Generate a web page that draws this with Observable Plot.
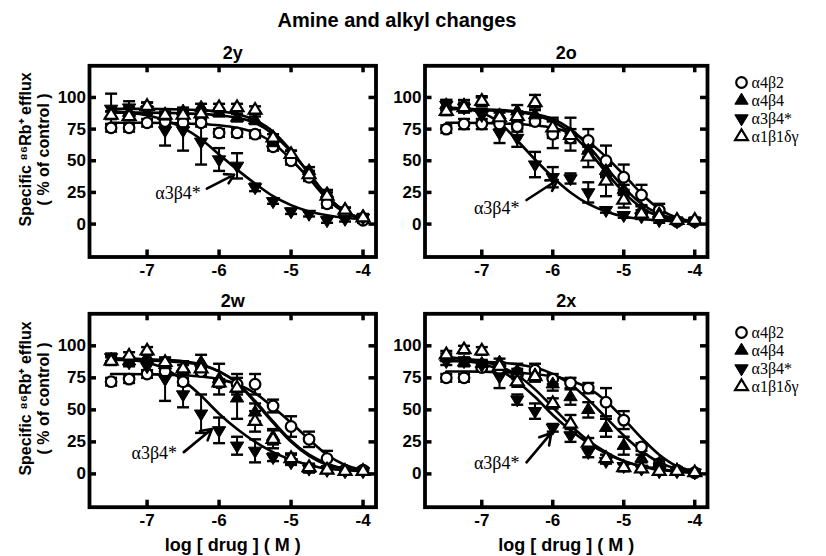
<!DOCTYPE html>
<html>
<head>
<meta charset="utf-8">
<script src="https://cdn.jsdelivr.net/npm/d3@7"></script>
<script src="https://cdn.jsdelivr.net/npm/@observablehq/plot@0.6"></script>
<style>
  html, body { margin: 0; padding: 0; background: #fff; overflow: hidden; }
  #chart { position: relative; width: 826px; height: 556px; overflow: hidden; background: #fff;
           font-family: "Liberation Sans", Arial, sans-serif; color: #000; }
  #title { position: absolute; left: 0; top: 9px; width: 794px; text-align: center;
           font-weight: bold; font-size: 20px; line-height: 23px; }
</style>
</head>
<body>
<div id="chart"><div id="title">Amine and alkyl changes</div></div>
<script>
// ---------------- data ----------------
const LOG_CONC = [-7.5, -7.25, -7, -6.75, -6.5, -6.25, -6, -5.75, -5.5, -5.25, -5, -4.75, -4.5, -4.25, -4];
const SERIES = ["α4β2", "α4β4", "α3β4*", "α1β1δγ"];
const X_TICKS = [-7, -6, -5, -4];
const Y_TICKS = [0, 25, 50, 75, 100];
const X_DOMAIN = [-7.8, -3.82];
const Y_DOMAIN = [-26, 125];
const Y_LABEL = "Specific ⁸⁶Rb⁺ efflux\n( % of control )";
const X_LABEL = "log [ drug ] ( M )";
const NOTE_TEXT = "α3β4*";

// panel 2y: values (v), error (e), fitted curve (f)
const v2y_a4b2 = [76, 76, 80, 81, 80, 80, 72, 72, 71, 61, 50, 37, 16, 7, 3];
const e2y_a4b2 = [3, 3, 3, 3, 3, 3, 3, 3, 3, 3, 3, 3, 3, 2, 2];
const f2y_a4b2 = [80, 80, 80, 79.8, 79.5, 79, 78, 76, 72, 64, 51, 36, 20, 9, 4];
const v2y_a4b4 = [86, 88, 93, 85, 89, 92, 88, 84, 82, 64, 55, 42, 24, 11, 6];
const e2y_a4b4 = [3, 4, 3, 3, 3, 3, 3, 3, 3, 3, 3, 3, 3, 2, 2];
const f2y_a4b4 = [88, 88, 88, 87.8, 87.5, 87, 86, 84, 80, 71, 57, 40, 22, 10, 4];
const v2y_a3b4 = [91, 92, 90, 74, 74, 65, 51, 46, 29, 18, 10, 8, 3, 4, 5];
const e2y_a3b4 = [12, 5, 3, 12, 16, 18, 9, 10, 3, 2, 2, 2, 2, 2, 2];
const f2y_a3b4 = [89, 88, 86, 82, 76, 67, 55, 43, 32, 22, 15, 10, 7, 5, 4];
const v2y_a1b1 = [86, 85, 93, 86, 86, 87, 92, 92, 90, 68, 55, 39, 22, 11, 5];
const e2y_a1b1 = [3, 3, 3, 3, 3, 3, 3, 3, 3, 3, 3, 3, 3, 2, 2];
const f2y_a1b1 = [91, 91, 91, 90.8, 90.5, 90, 89, 87, 82, 73, 58, 40, 22, 10, 4];

// panel 2o
const v2o_a4b2 = [75, 79, 79, 79, 77, 81, 71, 68, 66, 50, 37, 23, 11, 2, 2];
const e2o_a4b2 = [3, 4, 4, 4, 4, 3, 11, 4, 9, 12, 10, 8, 5, 2, 2];
const f2o_a4b2 = [80, 80, 79.8, 79.5, 79, 78, 76, 72, 65, 53, 39, 24, 12, 5, 2];
const v2o_a4b4 = [94, 94, 97, 86, 89, 86, 76, 71, 58, 42, 27, 11, 8, 3, 3];
const e2o_a4b4 = [4, 4, 4, 4, 5, 6, 8, 13, 5, 5, 4, 3, 3, 2, 2];
const f2o_a4b4 = [91, 91, 90.5, 90, 89, 87, 83, 75, 62, 45, 29, 16, 8, 4, 2];
const v2o_a3b4 = [94, 92, 86, 72, 68, 47, 37, 36, 25, 11, 7, 6, 3, 2, 2];
const e2o_a3b4 = [4, 4, 5, 8, 7, 10, 8, 4, 8, 2, 2, 2, 2, 2, 2];
const f2o_a3b4 = [92, 91, 88, 80, 66, 51, 37, 25, 16, 10, 6, 4, 3, 2, 2];
const v2o_a1b1 = [89, 92, 97, 84, 85, 96, 76, 70, 53, 34, 19, 8, 6, 3, 3];
const e2o_a1b1 = [3, 3, 3, 4, 4, 6, 5, 5, 8, 12, 6, 3, 3, 2, 2];
const f2o_a1b1 = [91, 91, 90, 89.5, 88.5, 86, 81, 72, 58, 41, 25, 13, 6, 3, 2];

// panel 2w
const v2w_a4b2 = [72, 74, 78, 80, 72, 80, 71, 70, 70, 53, 37, 27, 12, 3, 3];
const e2w_a4b2 = [3, 3, 3, 3, 3, 3, 3, 8, 8, 5, 8, 6, 6, 2, 2];
const f2w_a4b2 = [78, 78, 77.8, 77.5, 77, 76, 74, 70, 63, 52, 40, 27, 15, 7, 3];
const v2w_a4b4 = [89, 88, 91, 85, 83, 87, 74, 59, 48, 29, 12, 4, 3, 2, 2];
const e2w_a4b4 = [3, 3, 3, 4, 5, 6, 12, 16, 7, 6, 4, 3, 2, 2, 2];
const f2w_a4b4 = [89, 89, 88.5, 88, 87, 85, 80, 71, 57, 41, 26, 15, 8, 4, 2];
const v2w_a3b4 = [91, 87, 84, 74, 62, 47, 34, 22, 18, 13, 9, 4, 3, 2, 2];
const e2w_a3b4 = [3, 3, 3, 17, 10, 15, 10, 7, 9, 3, 2, 2, 2, 2, 2];
const f2w_a3b4 = [90, 89, 87, 82, 73, 61, 47, 35, 25, 17, 11, 7, 4, 3, 2];
const v2w_a1b1 = [88, 92, 96, 87, 82, 82, 71, 67, 41, 27, 12, 5, 3, 2, 2];
const e2w_a1b1 = [3, 3, 3, 3, 3, 3, 3, 3, 8, 7, 3, 3, 2, 2, 2];
const f2w_a1b1 = [90, 90, 89.5, 89, 88, 85.5, 80, 71, 56, 40, 25, 14, 7, 4, 2];

// panel 2x
const v2x_a4b2 = [75, 75, 83, 82, 79, 81, 74, 71, 67, 56, 42, 21, 8, 3, 1];
const e2x_a4b2 = [3, 3, 3, 3, 3, 5, 4, 4, 4, 11, 7, 3, 3, 2, 2];
const f2x_a4b2 = [80, 80, 79.8, 79.5, 79, 78, 76, 73, 67, 57, 43, 28, 15, 6, 2];
const v2x_a4b4 = [91, 87, 86, 87, 80, 77, 70, 60, 50, 36, 22, 12, 8, 3, 1];
const e2x_a4b4 = [3, 3, 3, 3, 6, 4, 5, 6, 6, 7, 7, 3, 3, 2, 2];
const f2x_a4b4 = [88, 88, 87.5, 87, 85.5, 83, 78, 70, 58, 44, 30, 18, 9, 4, 2];
const v2x_a3b4 = [88, 88, 85, 76, 58, 49, 36, 30, 17, 10, 6, 4, 2, 2, 1];
const e2x_a3b4 = [3, 3, 3, 9, 4, 6, 3, 5, 4, 2, 2, 2, 2, 2, 2];
const f2x_a3b4 = [89, 88, 86, 81, 72, 60, 46, 34, 24, 16, 10, 6, 4, 2, 1];
const v2x_a1b1 = [93, 97, 96, 84, 72, 76, 55, 39, 24, 12, 5, 4, 2, 2, 1];
const e2x_a1b1 = [3, 3, 3, 3, 4, 4, 4, 7, 4, 3, 3, 2, 2, 2, 2];
const f2x_a1b1 = [91, 90, 88, 84, 77, 66, 52, 38, 26, 17, 10, 6, 3, 2, 1];

// annotation "α3β4*" label position and arrow (data units) per panel
const note2y = [{x: -6.57, y: 24, x1: -6.17, y1: 28, x2: -5.79, y2: 39}];
const note2o = [{x: -6.79, y: 12.5, x1: -6.37, y1: 19, x2: -5.93, y2: 35}];
const note2w = [{x: -6.90, y: 16, x1: -6.49, y1: 17, x2: -6.10, y2: 35}];
const note2x = [{x: -6.79, y: 8.5, x1: -6.37, y1: 9, x2: -6.02, y2: 32}];

// ---------------- styling ----------------
const SANS = "Liberation Sans, Arial, Helvetica, sans-serif";
const SERIF = "Liberation Serif, Times New Roman, serif";

const triUp = {draw(ctx, size) {
  const r = Math.sqrt(size / Math.PI), h = 1.9 * r, w = 1.15 * r;
  ctx.moveTo(0, -2 * h / 3); ctx.lineTo(w, h / 3); ctx.lineTo(-w, h / 3); ctx.closePath();
}};
const triDown = {draw(ctx, size) {
  const r = Math.sqrt(size / Math.PI), h = 1.9 * r, w = 1.15 * r;
  ctx.moveTo(0, 2 * h / 3); ctx.lineTo(w, -h / 3); ctx.lineTo(-w, -h / 3); ctx.closePath();
}};
const capSym = {draw(ctx, size) {
  const r = Math.sqrt(size / Math.PI);
  ctx.moveTo(-r, 0); ctx.lineTo(r, 0);
}};

const SYMBOL_STYLE = [
  {symbol: "circle", r: 5.3, fill: "white", stroke: "black", strokeWidth: 2.2},
  {symbol: triUp, r: 5.8, fill: "black", stroke: "black", strokeWidth: 1},
  {symbol: triDown, r: 5.8, fill: "black", stroke: "black", strokeWidth: 1},
  {symbol: triUp, r: 5.6, fill: "white", stroke: "black", strokeWidth: 2.2}
];

const TICK = 7;
const chart = document.getElementById("chart");

function place(svg, left, top, width, height) {
  svg.style.position = "absolute";
  svg.style.left = left + "px";
  svg.style.top = top + "px";
  svg.style.width = width + "px";
  svg.style.height = height + "px";
  svg.style.maxWidth = "none";
  chart.appendChild(svg);
  return svg;
}

function panel(cfg) {
  const rows = cfg.series.flatMap((s, k) =>
    LOG_CONC.map((x, i) => ({k, x, v: s.v[i], e: s.e[i], f: s.f[i]})));
  const eb = rows.filter(d => d.e > 0);
  const marks = [];
  cfg.series.forEach((s, k) => marks.push(
    Plot.line(rows.filter(d => d.k === k), {x: "x", y: "f", curve: "monotone-x", stroke: "black", strokeWidth: 2.6})
  ));
  marks.push(Plot.ruleX(eb, {x: "x", y1: d => d.v - d.e, y2: d => d.v + d.e, stroke: "black", strokeWidth: 2}));
  marks.push(Plot.dot(eb, {x: "x", y: d => d.v + d.e, symbol: capSym, r: 6, fill: "none", stroke: "black", strokeWidth: 2.4}));
  marks.push(Plot.dot(eb, {x: "x", y: d => d.v - d.e, symbol: capSym, r: 6, fill: "none", stroke: "black", strokeWidth: 2.4}));
  SYMBOL_STYLE.forEach((st, k) => marks.push(Plot.dot(rows.filter(d => d.k === k), {x: "x", y: "v", ...st})));
  // annotation
  marks.push(Plot.arrow(cfg.note, {x1: "x1", y1: "y1", x2: "x2", y2: "y2", stroke: "black", strokeWidth: 2.6, headLength: 9}));
  marks.push(Plot.text(cfg.note, {x: "x", y: "y", text: () => NOTE_TEXT, fontFamily: SERIF, fontSize: 18,
                                  fontWeight: "normal", ariaLabel: "note", fill: "black"}));
  // inward ticks on all four sides
  marks.push(Plot.ruleX(X_TICKS, {x: d => d, y1: () => Y_DOMAIN[1], y2: () => Y_DOMAIN[1], insetBottom: -TICK, stroke: "black", strokeWidth: 3.5}));
  marks.push(Plot.ruleX(X_TICKS, {x: d => d, y1: () => Y_DOMAIN[0], y2: () => Y_DOMAIN[0], insetTop: -TICK, stroke: "black", strokeWidth: 3.5}));
  marks.push(Plot.ruleY(Y_TICKS, {y: d => d, x1: () => X_DOMAIN[0], x2: () => X_DOMAIN[0], insetRight: -TICK, stroke: "black", strokeWidth: 3.5}));
  marks.push(Plot.ruleY(Y_TICKS, {y: d => d, x1: () => X_DOMAIN[1], x2: () => X_DOMAIN[1], insetLeft: -TICK, stroke: "black", strokeWidth: 3.5}));
  marks.push(Plot.frame({stroke: "black", strokeWidth: 3.8}));
  // panel title
  marks.push(Plot.text([cfg.title], {frameAnchor: "top", dy: -7, lineAnchor: "bottom", textAnchor: "middle",
                                     fontSize: 18, fontWeight: "bold", fontFamily: SANS}));
  if (cfg.yLabel) {
    marks.push(Plot.text([Y_LABEL], {frameAnchor: "left", rotate: -90, dx: -55.5, dy: -12,
                                     textAnchor: "middle", lineAnchor: "middle",
                                     lineHeight: 1.15, fontSize: 16, fontWeight: "bold", fontFamily: SANS}));
  }
  if (cfg.xLabel) {
    marks.push(Plot.text([X_LABEL], {frameAnchor: "bottom", dy: 43.3, lineAnchor: "bottom", textAnchor: "middle",
                                     fontSize: 18, fontWeight: "bold", fontFamily: SANS}));
  }
  const svg = Plot.plot({
    width: cfg.width, height: cfg.height,
    marginLeft: cfg.ml, marginRight: cfg.mr, marginTop: cfg.mt, marginBottom: cfg.mb,
    x: {domain: X_DOMAIN, ticks: X_TICKS, tickSize: 0, tickPadding: 7, tickFormat: d => `${d}`, label: null},
    y: {domain: Y_DOMAIN, ticks: Y_TICKS, tickSize: 0, tickPadding: 3.5, tickFormat: d => `${d}`, label: null},
    style: {fontFamily: SANS, fontSize: "17px", fontWeight: "bold", color: "black", background: "transparent", overflow: "visible"},
    marks
  });
  d3.select(svg).selectAll('g[aria-label="note"] text').style("letter-spacing", "2.5px");
  return place(svg, cfg.left, cfg.top, cfg.width, cfg.height);
}

function legend(left, top) {
  const W = 98, H = 80;
  const marks = SYMBOL_STYLE.map((st, k) =>
    Plot.dot([SERIES[k]], {y: d => d, frameAnchor: "left", dx: 13, ...st}));
  marks.push(Plot.text(SERIES, {y: d => d, text: d => d, frameAnchor: "left", dx: 23, textAnchor: "start",
                                lineAnchor: "middle", fontFamily: SERIF, fontSize: 16, fontWeight: "normal",
                                ariaLabel: "legend-text", fill: "black"}));
  const svg = Plot.plot({
    width: W, height: H, margin: 0,
    y: {type: "point", domain: SERIES, range: [11.5, 67], padding: 0, axis: null},
    style: {fontFamily: SERIF, background: "transparent", overflow: "visible"},
    marks
  });
  d3.select(svg).selectAll('g[aria-label="legend-text"] text').style("letter-spacing", "3px");
  return place(svg, left, top, W, H);
}

const S = (v, e, f) => ({v, e, f});

panel({title: "2y", left: 0, top: 28, width: 400, height: 262, ml: 89, mr: 24.5, mt: 37.3, mb: 33.5,
       yLabel: true, note: note2y,
       series: [S(v2y_a4b2, e2y_a4b2, f2y_a4b2), S(v2y_a4b4, e2y_a4b4, f2y_a4b4), S(v2y_a3b4, e2y_a3b4, f2y_a3b4), S(v2y_a1b1, e2y_a1b1, f2y_a1b1)]});
panel({title: "2o", left: 400, top: 28, width: 326, height: 262, ml: 24.5, mr: 19, mt: 37.3, mb: 33.5,
       note: note2o,
       series: [S(v2o_a4b2, e2o_a4b2, f2o_a4b2), S(v2o_a4b4, e2o_a4b4, f2o_a4b4), S(v2o_a3b4, e2o_a3b4, f2o_a3b4), S(v2o_a1b1, e2o_a1b1, f2o_a1b1)]});
panel({title: "2w", left: 0, top: 277, width: 400, height: 279, ml: 89, mr: 24.5, mt: 36.3, mb: 49.3,
       yLabel: true, xLabel: true, note: note2w,
       series: [S(v2w_a4b2, e2w_a4b2, f2w_a4b2), S(v2w_a4b4, e2w_a4b4, f2w_a4b4), S(v2w_a3b4, e2w_a3b4, f2w_a3b4), S(v2w_a1b1, e2w_a1b1, f2w_a1b1)]});
panel({title: "2x", left: 400, top: 277, width: 326, height: 279, ml: 24.5, mr: 19, mt: 36.3, mb: 49.3,
       xLabel: true, note: note2x,
       series: [S(v2x_a4b2, e2x_a4b2, f2x_a4b2), S(v2x_a4b4, e2x_a4b4, f2x_a4b4), S(v2x_a3b4, e2x_a3b4, f2x_a3b4), S(v2x_a1b1, e2x_a1b1, f2x_a1b1)]});
legend(728, 70);
legend(728, 320);
</script>
</body>
</html>
